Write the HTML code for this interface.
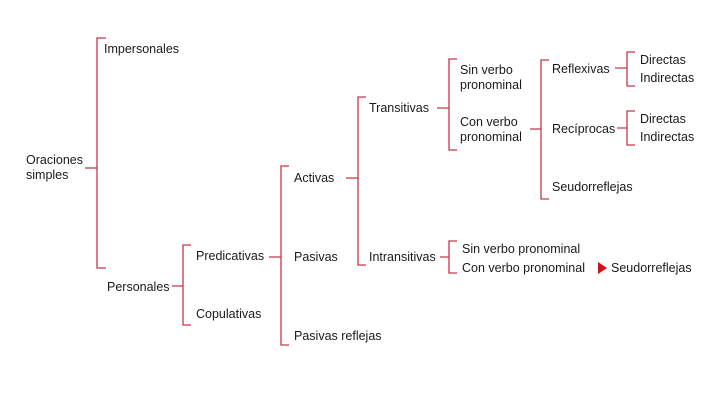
<!DOCTYPE html>
<html><head><meta charset="utf-8"><style>
html,body{margin:0;padding:0;background:#fff;width:725px;height:400px;overflow:hidden}
svg text{font-family:"Liberation Sans",sans-serif;font-size:12.5px;fill:#1a1a1a}
</style></head><body>
<svg width="725" height="400" viewBox="0 0 725 400">
<g stroke="#c4384a" stroke-width="1.3" fill="none">
<path d="M106 38H97V268H106M85 168H97"/>
<path d="M191 245H183V325H191M172 286H183"/>
<path d="M289 166H281V345H289M269 257H281"/>
<path d="M366 97H358V265H366M346 178H358"/>
<path d="M457 59H449V150H457M437 108H449"/>
<path d="M549 60H541V199H549M530 129H541"/>
<path d="M635 52H627V86H635M615 68H627"/>
<path d="M635 111H627V145H635M617 128H627"/>
<path d="M457 241H449V273H457M440 257H449"/>
</g>
<polygon points="598,262 607,268 598,274" fill="#d0101e"/>
<text x="26" y="164">Oraciones</text>
<text x="26" y="179">simples</text>
<text x="104" y="53">Impersonales</text>
<text x="107" y="291">Personales</text>
<text x="196" y="260">Predicativas</text>
<text x="196" y="318">Copulativas</text>
<text x="294" y="182">Activas</text>
<text x="294" y="261">Pasivas</text>
<text x="294" y="340">Pasivas reflejas</text>
<text x="369" y="112">Transitivas</text>
<text x="369" y="261">Intransitivas</text>
<text x="460" y="74">Sin verbo</text>
<text x="460" y="89">pronominal</text>
<text x="460" y="126">Con verbo</text>
<text x="460" y="141">pronominal</text>
<text x="552" y="73">Reflexivas</text>
<text x="552" y="133">Recíprocas</text>
<text x="552" y="191">Seudorreflejas</text>
<text x="640" y="64">Directas</text>
<text x="640" y="82">Indirectas</text>
<text x="640" y="123">Directas</text>
<text x="640" y="141">Indirectas</text>
<text x="462" y="253">Sin verbo pronominal</text>
<text x="462" y="272">Con verbo pronominal</text>
<text x="611" y="272">Seudorreflejas</text>
</svg>
</body></html>
